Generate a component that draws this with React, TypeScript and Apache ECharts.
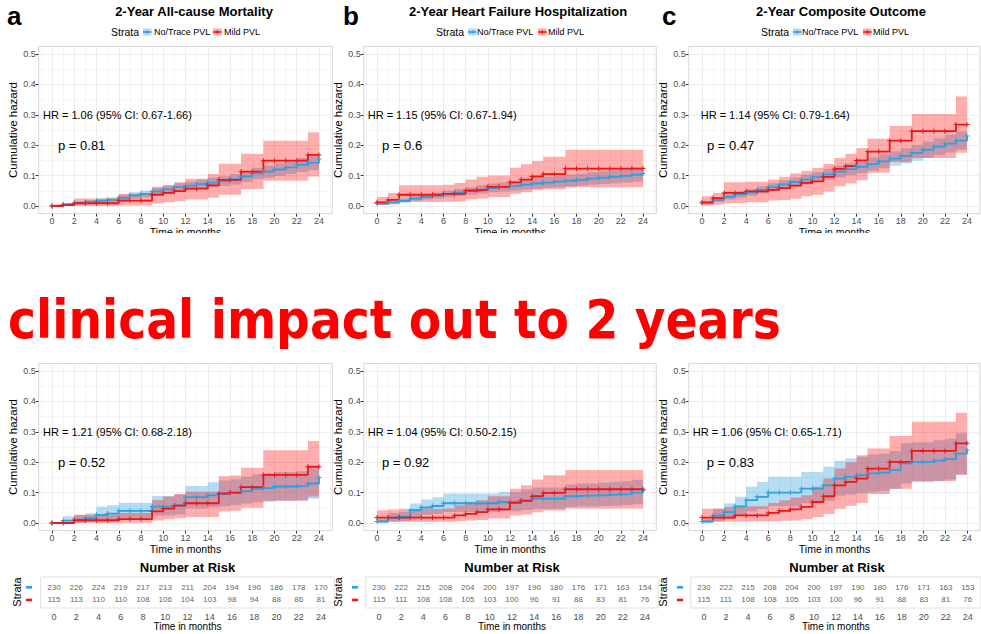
import React, { useEffect, useRef } from "react";
import * as echarts from "echarts";

// ---------------- data ----------------
const months = [0, 1, 2, 3, 4, 5, 6, 7, 8, 9, 10, 11, 12, 13, 14, 15, 16, 17, 18, 19, 20, 21, 22, 23, 24];
const xTicks = [0, 2, 4, 6, 8, 10, 12, 14, 16, 18, 20, 22, 24];
const yTicks = [0, 0.1, 0.2, 0.3, 0.4, 0.5];
const gridX = [-1, 0, 1, 2, 3, 4, 5, 6, 7, 8, 9, 10, 11, 12, 13, 14, 15, 16, 17, 18, 19, 20, 21, 22, 23, 24, 25];
const gridY = [0, 0.05, 0.1, 0.15, 0.2, 0.25, 0.3, 0.35, 0.4, 0.45, 0.5];

// Top row (a) 2-Year All-cause Mortality
const aTopBlue = [0, 0.005, 0.01, 0.013, 0.017, 0.02, 0.027, 0.035, 0.04, 0.048, 0.055, 0.062, 0.067, 0.072, 0.077, 0.082, 0.088, 0.097, 0.107, 0.113, 0.12, 0.127, 0.135, 0.142, 0.155];
const aTopBlueLo = [0, 0.001, 0.005, 0.007, 0.01, 0.012, 0.018, 0.025, 0.029, 0.036, 0.042, 0.048, 0.053, 0.057, 0.061, 0.066, 0.071, 0.079, 0.088, 0.093, 0.099, 0.105, 0.112, 0.118, 0.13];
const aTopBlueHi = [0.002, 0.009, 0.016, 0.02, 0.025, 0.029, 0.036, 0.045, 0.051, 0.06, 0.068, 0.076, 0.081, 0.087, 0.093, 0.098, 0.105, 0.115, 0.126, 0.133, 0.141, 0.149, 0.158, 0.166, 0.18];
const aTopRed = [0, 0.003, 0.009, 0.009, 0.009, 0.009, 0.018, 0.018, 0.018, 0.037, 0.043, 0.049, 0.057, 0.057, 0.068, 0.086, 0.086, 0.113, 0.113, 0.149, 0.149, 0.149, 0.149, 0.168, 0.168];
const aTopRedLo = [0, 0, 0, 0, 0, 0, 0.002, 0.002, 0.002, 0.008, 0.012, 0.016, 0.021, 0.021, 0.027, 0.037, 0.037, 0.056, 0.056, 0.083, 0.083, 0.083, 0.083, 0.097, 0.097];
const aTopRedHi = [0.005, 0.01, 0.025, 0.025, 0.025, 0.025, 0.04, 0.04, 0.04, 0.063, 0.068, 0.078, 0.09, 0.09, 0.105, 0.139, 0.139, 0.172, 0.172, 0.215, 0.215, 0.215, 0.215, 0.243, 0.243];

// Top row (b) 2-Year Heart Failure Hospitalization
const bTopBlue = [0.008, 0.012, 0.017, 0.024, 0.029, 0.034, 0.039, 0.044, 0.049, 0.054, 0.059, 0.062, 0.066, 0.07, 0.074, 0.077, 0.08, 0.083, 0.086, 0.09, 0.093, 0.096, 0.099, 0.103, 0.108];
const bTopBlueLo = [0.004, 0.007, 0.011, 0.017, 0.021, 0.025, 0.029, 0.033, 0.037, 0.041, 0.045, 0.048, 0.051, 0.054, 0.057, 0.06, 0.062, 0.064, 0.067, 0.07, 0.072, 0.075, 0.077, 0.08, 0.084];
const bTopBlueHi = [0.013, 0.018, 0.024, 0.032, 0.038, 0.044, 0.05, 0.056, 0.062, 0.068, 0.074, 0.077, 0.082, 0.087, 0.092, 0.095, 0.099, 0.103, 0.106, 0.111, 0.115, 0.118, 0.122, 0.127, 0.133];
const bTopRed = [0.012, 0.02, 0.037, 0.037, 0.037, 0.037, 0.04, 0.04, 0.051, 0.053, 0.063, 0.063, 0.078, 0.087, 0.097, 0.105, 0.105, 0.123, 0.123, 0.123, 0.123, 0.123, 0.123, 0.123, 0.123];
const bTopRedLo = [0.003, 0.006, 0.013, 0.013, 0.013, 0.013, 0.015, 0.015, 0.022, 0.025, 0.03, 0.03, 0.04, 0.045, 0.052, 0.056, 0.056, 0.062, 0.062, 0.062, 0.062, 0.062, 0.062, 0.062, 0.062];
const bTopRedHi = [0.03, 0.043, 0.068, 0.068, 0.068, 0.068, 0.07, 0.076, 0.087, 0.096, 0.1, 0.1, 0.126, 0.137, 0.148, 0.162, 0.162, 0.185, 0.185, 0.185, 0.185, 0.185, 0.185, 0.185, 0.185];

// Top row (c) 2-Year Composite Outcome
const cTopBlue = [0.01, 0.02, 0.03, 0.038, 0.045, 0.053, 0.062, 0.071, 0.079, 0.087, 0.095, 0.104, 0.113, 0.121, 0.129, 0.138, 0.147, 0.156, 0.165, 0.175, 0.185, 0.195, 0.205, 0.215, 0.23];
const cTopBlueLo = [0.005, 0.013, 0.021, 0.028, 0.034, 0.041, 0.049, 0.057, 0.064, 0.071, 0.078, 0.086, 0.094, 0.101, 0.108, 0.116, 0.124, 0.132, 0.14, 0.149, 0.158, 0.167, 0.176, 0.185, 0.198];
const cTopBlueHi = [0.016, 0.027, 0.039, 0.048, 0.056, 0.065, 0.075, 0.085, 0.094, 0.103, 0.112, 0.122, 0.132, 0.141, 0.15, 0.16, 0.17, 0.18, 0.19, 0.201, 0.212, 0.223, 0.234, 0.245, 0.262];
const cTopRed = [0.012, 0.026, 0.043, 0.043, 0.048, 0.048, 0.053, 0.059, 0.067, 0.076, 0.081, 0.096, 0.122, 0.131, 0.15, 0.179, 0.179, 0.215, 0.215, 0.246, 0.246, 0.246, 0.246, 0.268, 0.268];
const cTopRedLo = [0.002, 0.004, 0.01, 0.01, 0.012, 0.012, 0.018, 0.02, 0.024, 0.032, 0.037, 0.048, 0.065, 0.074, 0.085, 0.109, 0.109, 0.145, 0.145, 0.158, 0.158, 0.158, 0.158, 0.175, 0.175];
const cTopRedHi = [0.032, 0.043, 0.078, 0.078, 0.08, 0.08, 0.087, 0.096, 0.107, 0.116, 0.125, 0.138, 0.158, 0.172, 0.191, 0.221, 0.221, 0.263, 0.263, 0.303, 0.303, 0.303, 0.303, 0.36, 0.36];

// Bottom row (a)
const aBotBlue = [0, 0.008, 0.011, 0.016, 0.027, 0.031, 0.04, 0.04, 0.04, 0.054, 0.054, 0.058, 0.085, 0.085, 0.091, 0.095, 0.098, 0.105, 0.112, 0.115, 0.12, 0.12, 0.122, 0.13, 0.15];
const aBotBlueLo = [0, 0, 0.001, 0.003, 0.008, 0.01, 0.015, 0.015, 0.015, 0.025, 0.025, 0.028, 0.048, 0.048, 0.052, 0.055, 0.058, 0.064, 0.068, 0.07, 0.073, 0.073, 0.075, 0.08, 0.092];
const aBotBlueHi = [0, 0.022, 0.026, 0.032, 0.054, 0.058, 0.067, 0.067, 0.067, 0.089, 0.089, 0.094, 0.122, 0.122, 0.134, 0.14, 0.144, 0.152, 0.16, 0.163, 0.168, 0.168, 0.17, 0.18, 0.205];
const aBotRed = [0, 0, 0.009, 0.009, 0.009, 0.009, 0.013, 0.013, 0.013, 0.038, 0.047, 0.057, 0.065, 0.065, 0.065, 0.097, 0.1, 0.118, 0.118, 0.158, 0.158, 0.158, 0.158, 0.185, 0.185];
const aBotRedLo = [0, 0, 0, 0, 0, 0, 0.001, 0.001, 0.001, 0.008, 0.012, 0.016, 0.02, 0.02, 0.02, 0.038, 0.04, 0.05, 0.05, 0.073, 0.073, 0.073, 0.073, 0.087, 0.087];
const aBotRedHi = [0, 0, 0.027, 0.027, 0.027, 0.027, 0.033, 0.033, 0.033, 0.076, 0.087, 0.095, 0.103, 0.103, 0.103, 0.154, 0.156, 0.182, 0.182, 0.239, 0.239, 0.239, 0.239, 0.27, 0.27];

// Bottom row (b)
const bBotBlue = [0.005, 0.017, 0.021, 0.042, 0.051, 0.056, 0.065, 0.065, 0.065, 0.065, 0.065, 0.069, 0.069, 0.075, 0.08, 0.08, 0.08, 0.088, 0.09, 0.09, 0.092, 0.094, 0.095, 0.1, 0.107];
const bBotBlueLo = [0, 0.004, 0.006, 0.02, 0.027, 0.03, 0.036, 0.036, 0.036, 0.036, 0.036, 0.039, 0.039, 0.043, 0.047, 0.047, 0.047, 0.053, 0.054, 0.054, 0.056, 0.057, 0.058, 0.062, 0.066];
const bBotBlueHi = [0.012, 0.033, 0.037, 0.064, 0.077, 0.085, 0.097, 0.097, 0.097, 0.097, 0.097, 0.102, 0.102, 0.11, 0.117, 0.117, 0.117, 0.127, 0.13, 0.13, 0.133, 0.135, 0.137, 0.142, 0.15];
const bBotRed = [0.018, 0.018, 0.018, 0.018, 0.018, 0.018, 0.018, 0.025, 0.03, 0.036, 0.045, 0.045, 0.066, 0.073, 0.088, 0.099, 0.099, 0.111, 0.111, 0.111, 0.111, 0.111, 0.111, 0.111, 0.111];
const bBotRedLo = [0.004, 0.004, 0.004, 0.004, 0.004, 0.004, 0.004, 0.006, 0.008, 0.01, 0.015, 0.015, 0.025, 0.028, 0.035, 0.041, 0.041, 0.048, 0.048, 0.048, 0.048, 0.048, 0.048, 0.048, 0.048];
const bBotRedHi = [0.042, 0.044, 0.046, 0.046, 0.046, 0.046, 0.048, 0.058, 0.068, 0.075, 0.088, 0.088, 0.113, 0.124, 0.143, 0.157, 0.157, 0.174, 0.174, 0.174, 0.174, 0.174, 0.174, 0.174, 0.174];

// Bottom row (c)
const cBotBlue = [0.005, 0.025, 0.036, 0.055, 0.075, 0.086, 0.1, 0.1, 0.1, 0.113, 0.113, 0.124, 0.146, 0.152, 0.157, 0.163, 0.166, 0.174, 0.196, 0.2, 0.2, 0.205, 0.21, 0.228, 0.24];
const cBotBlueLo = [0, 0.006, 0.013, 0.025, 0.038, 0.046, 0.055, 0.055, 0.055, 0.065, 0.065, 0.073, 0.09, 0.094, 0.098, 0.103, 0.106, 0.112, 0.13, 0.134, 0.134, 0.138, 0.143, 0.16, 0.17];
const cBotBlueHi = [0.012, 0.047, 0.064, 0.086, 0.119, 0.135, 0.152, 0.152, 0.152, 0.168, 0.168, 0.185, 0.205, 0.212, 0.218, 0.225, 0.228, 0.237, 0.262, 0.266, 0.266, 0.272, 0.277, 0.295, 0.308];
const cBotRed = [0.018, 0.018, 0.018, 0.025, 0.025, 0.025, 0.033, 0.04, 0.045, 0.053, 0.069, 0.088, 0.124, 0.135, 0.146, 0.179, 0.179, 0.201, 0.201, 0.237, 0.237, 0.237, 0.237, 0.262, 0.262];
const cBotRedLo = [0.004, 0.004, 0.004, 0.005, 0.005, 0.005, 0.006, 0.007, 0.008, 0.012, 0.02, 0.03, 0.047, 0.057, 0.066, 0.095, 0.095, 0.113, 0.113, 0.138, 0.138, 0.138, 0.138, 0.158, 0.158];
const cBotRedHi = [0.047, 0.047, 0.053, 0.055, 0.055, 0.055, 0.066, 0.075, 0.083, 0.091, 0.119, 0.146, 0.179, 0.2, 0.223, 0.245, 0.245, 0.286, 0.286, 0.333, 0.333, 0.333, 0.333, 0.363, 0.363];

// Number at risk
const riskTimes = [0, 2, 4, 6, 8, 10, 12, 14, 16, 18, 20, 22, 24];
const riskABlue = [230, 226, 224, 219, 217, 213, 211, 204, 194, 190, 186, 178, 170];
const riskARed = [115, 113, 110, 110, 108, 106, 104, 103, 98, 94, 88, 86, 81];
const riskBBlue = [230, 222, 215, 208, 204, 200, 197, 190, 180, 176, 171, 163, 154];
const riskBRed = [115, 111, 108, 108, 105, 103, 100, 96, 91, 88, 83, 81, 76];
const riskCBlue = [230, 222, 215, 208, 204, 200, 197, 190, 180, 176, 171, 163, 153];
const riskCRed = [115, 111, 108, 108, 105, 103, 100, 96, 91, 88, 83, 81, 76];

const panelTitles = ["2-Year All-cause Mortality", "2-Year Heart Failure Hospitalization", "2-Year Composite Outcome"];
const panelLetters = ["a", "b", "c"];
const legendNames = ["No/Trace PVL", "Mild PVL"];

// ---------------- styling / layout ----------------
const FONT = "'Liberation Sans', Arial, Helvetica, sans-serif";
const BLUE = "#2E9FDF";
const RED = "#F01414";
const BLUE_FILL = "rgba(46,159,223,0.36)";
const RED_FILL = "rgba(255,0,0,0.32)";
const PLUS = "path://M2,0L3,0L3,2L5,2L5,3L3,3L3,5L2,5L2,3L0,3L0,2L2,2Z";

const COLS = [
  { left: 38.65, width: 293.7 },
  { left: 363.7, width: 292.6 },
  { left: 688.75, width: 291.5 },
];
const ROW_TOP = [46.4, 363.4];
const PANEL_H = 167.2;

const panels = [
  { row: 0, col: 0, blue: aTopBlue, blueLo: aTopBlueLo, blueHi: aTopBlueHi, red: aTopRed, redLo: aTopRedLo, redHi: aTopRedHi, hr: "HR = 1.06 (95% CI: 0.67-1.66)", p: "p = 0.81", hrX: 43, pX: 58, hrY: 115.2, pY: 145.5 },
  { row: 0, col: 1, blue: bTopBlue, blueLo: bTopBlueLo, blueHi: bTopBlueHi, red: bTopRed, redLo: bTopRedLo, redHi: bTopRedHi, hr: "HR = 1.15 (95% CI: 0.67-1.94)", p: "p = 0.6", hrX: 367.7, pX: 382, hrY: 115.2, pY: 145.5 },
  { row: 0, col: 2, blue: cTopBlue, blueLo: cTopBlueLo, blueHi: cTopBlueHi, red: cTopRed, redLo: cTopRedLo, redHi: cTopRedHi, hr: "HR = 1.14 (95% CI: 0.79-1.64)", p: "p = 0.47", hrX: 700.7, pX: 707, hrY: 115.2, pY: 145.5 },
  { row: 1, col: 0, blue: aBotBlue, blueLo: aBotBlueLo, blueHi: aBotBlueHi, red: aBotRed, redLo: aBotRedLo, redHi: aBotRedHi, hr: "HR = 1.21 (95% CI: 0.68-2.18)", p: "p = 0.52", hrX: 43, pX: 58, hrY: 432.2, pY: 462.8 },
  { row: 1, col: 1, blue: bBotBlue, blueLo: bBotBlueLo, blueHi: bBotBlueHi, red: bBotRed, redLo: bBotRedLo, redHi: bBotRedHi, hr: "HR = 1.04 (95% CI: 0.50-2.15)", p: "p = 0.92", hrX: 367.7, pX: 382, hrY: 432.2, pY: 462.8 },
  { row: 1, col: 2, blue: cBotBlue, blueLo: cBotBlueLo, blueHi: cBotBlueHi, red: cBotRed, redLo: cBotRedLo, redHi: cBotRedHi, hr: "HR = 1.06 (95% CI: 0.65-1.71)", p: "p = 0.83", hrX: 692.7, pX: 706.7, hrY: 432.2, pY: 462.8 },
];

const risks = [
  { blue: riskABlue, red: riskARed, left: 40.65, width: 293.7, titleX: 187.5, strataX: 17, dashX: 26 },
  { blue: riskBBlue, red: riskBRed, left: 365.7, width: 292.6, titleX: 512, strataX: 338, dashX: 352 },
  { blue: riskCBlue, red: riskCRed, left: 690.75, width: 291.5, titleX: 837, strataX: 663, dashX: 677 },
];

const legendPos = [
  { s: 111, k1: 143, t1: 154, k2: 213, t2: 224, titleX: 194, letterX: 7 },
  { s: 436, k1: 468, t1: 477, k2: 538, t2: 548, titleX: 518, letterX: 343 },
  { s: 761, k1: 793, t1: 802, k2: 863, t2: 873, titleX: 841, letterX: 662 },
];

function txt(x: number, y: number, text: string, fontSize: number, extra: any = {}, el: any = {}) {
  return {
    type: "text",
    x,
    y,
    z: 50,
    silent: true,
    ...el,
    style: { text, fontSize, fontFamily: FONT, fill: "#000", align: "left", verticalAlign: "middle", ...extra },
  };
}

function buildOption() {
  const grid: any[] = [];
  const xAxis: any[] = [];
  const yAxis: any[] = [];
  const series: any[] = [];
  const graphic: any[] = [];

  const tickStyle = { show: true, length: 3, lineStyle: { color: "#333", width: 1 } };

  panels.forEach((p, gi) => {
    const col = COLS[p.col];
    grid.push({
      left: col.left,
      top: ROW_TOP[p.row],
      width: col.width,
      height: PANEL_H,
      show: true,
      backgroundColor: "#fff",
      borderColor: "#D6D6D6",
      borderWidth: 1,
    });
    xAxis.push({
      gridIndex: gi,
      type: "value",
      min: -1.2,
      max: 25.2,
      axisLine: { show: false, onZero: false },
      splitLine: { show: false },
      axisTick: { ...tickStyle, customValues: xTicks },
      axisLabel: { customValues: xTicks, fontSize: 9, color: "#4D4D4D", margin: 3, fontFamily: FONT },
      name: "Time in months",
      nameLocation: "middle",
      nameGap: 12,
      nameTextStyle: { fontSize: 10.5, color: "#000", fontFamily: FONT },
    });
    yAxis.push({
      gridIndex: gi,
      type: "value",
      min: -0.025,
      max: 0.525,
      axisLine: { show: false, onZero: false },
      splitLine: { show: false },
      axisTick: { ...tickStyle, customValues: yTicks },
      axisLabel: {
        customValues: yTicks,
        formatter: (v: number) => v.toFixed(1),
        fontSize: 9,
        color: "#4D4D4D",
        margin: 3,
        fontFamily: FONT,
      },
      name: "Cumulative hazard",
      nameLocation: "middle",
      nameGap: 16,
      nameTextStyle: { fontSize: 11.5, color: "#000", fontFamily: FONT },
    });

    // grid lines (major + minor) through the axes' scales, kept beneath the bands
    series.push({
      type: "line",
      xAxisIndex: gi,
      yAxisIndex: gi,
      data: [[0, 0]],
      symbol: "none",
      lineStyle: { opacity: 0 },
      silent: true,
      z: 1,
      markLine: {
        z: 1,
        silent: true,
        symbol: ["none", "none"],
        label: { show: false },
        animation: false,
        data: [
          ...gridX.map((v) => ({ xAxis: v, lineStyle: { color: "#EBEBEB", width: v % 2 === 0 ? 0.9 : 0.5, type: "solid" } })),
          ...gridY.map((v) => ({
            yAxis: v,
            lineStyle: { color: "#EBEBEB", width: Math.round(v * 100) % 10 === 0 ? 0.9 : 0.5, type: "solid" },
          })),
        ],
      },
    });

    // confidence bands as stepped polygons built through the axis scales
    const band = (lo: number[], hi: number[], fill: string) => {
      const n = months.length;
      series.push({
        type: "custom",
        coordinateSystem: "cartesian2d",
        xAxisIndex: gi,
        yAxisIndex: gi,
        silent: true,
        z: 2,
        data: [[0, 0]],
        renderItem: (_params: any, api: any) => {
          const pts: number[][] = [];
          for (let k = 0; k < n; k++) {
            const x1 = months[Math.min(k + 1, n - 1)];
            pts.push(api.coord([months[k], hi[k]]));
            pts.push(api.coord([x1, hi[k]]));
          }
          for (let k = n - 1; k >= 0; k--) {
            const x1 = months[Math.min(k + 1, n - 1)];
            pts.push(api.coord([x1, lo[k]]));
            pts.push(api.coord([months[k], lo[k]]));
          }
          return { type: "polygon", shape: { points: pts }, style: { fill, stroke: "none" } };
        },
      });
    };
    band(p.blueLo, p.blueHi, BLUE_FILL);
    band(p.redLo, p.redHi, RED_FILL);

    const curve = (vals: number[], color: string, name: string) => {
      series.push({
        type: "line",
        name,
        xAxisIndex: gi,
        yAxisIndex: gi,
        step: "end",
        data: months.map((m, k) => [m, vals[k]]),
        lineStyle: { color, width: 1.8 },
        itemStyle: { color },
        symbol: PLUS,
        symbolSize: 5,
        showSymbol: true,
        silent: true,
        z: 4,
      });
    };
    curve(p.blue, BLUE, legendNames[0]);
    curve(p.red, RED, legendNames[1]);

    graphic.push(txt(p.hrX, p.hrY, p.hr, 11));
    graphic.push(txt(p.pX, p.pY, p.p, 13));
  });

  // risk tables
  risks.forEach((r, i) => {
    const gi = panels.length + i;
    grid.push({
      left: r.left,
      top: 577,
      width: r.width,
      height: 31,
      show: true,
      backgroundColor: "#fff",
      borderColor: "#E0E0E0",
      borderWidth: 1,
    });
    xAxis.push({
      gridIndex: gi,
      type: "value",
      min: -1.2,
      max: 25.2,
      axisLine: { show: false, onZero: false },
      splitLine: { show: false },
      axisTick: { show: false, customValues: xTicks },
      axisLabel: { customValues: xTicks, fontSize: 9, color: "#4D4D4D", margin: 4, fontFamily: FONT },
      name: "Time in months",
      nameLocation: "middle",
      nameGap: 12,
      nameTextStyle: { fontSize: 10, color: "#000", fontFamily: FONT },
    });
    yAxis.push({
      gridIndex: gi,
      type: "value",
      min: -0.63,
      max: 1.81,
      show: false,
      axisLine: { show: false, onZero: false },
      splitLine: { show: false },
    });
    const row = (vals: number[], y: number) => ({
      type: "scatter",
      xAxisIndex: gi,
      yAxisIndex: gi,
      data: riskTimes.map((t, k) => [t, y, vals[k]]),
      symbolSize: 1,
      itemStyle: { color: "transparent" },
      silent: true,
      z: 5,
      label: {
        show: true,
        position: "inside",
        formatter: (q: any) => String(q.value[2]),
        fontSize: 8,
        color: "#333",
        fontFamily: FONT,
      },
    });
    series.push(row(r.blue, 1));
    series.push(row(r.red, 0));

    graphic.push(txt(r.titleX, 567.8, "Number at Risk", 13, { fontWeight: "bold", align: "center" }));
    graphic.push(txt(r.strataX, 592, "Strata", 11, { align: "center" }, { rotation: Math.PI / 2 }));
    graphic.push({ type: "rect", z: 50, silent: true, shape: { x: r.dashX, y: 586, width: 6, height: 2.6 }, style: { fill: BLUE } });
    graphic.push({ type: "rect", z: 50, silent: true, shape: { x: r.dashX, y: 598.7, width: 6, height: 2.6 }, style: { fill: RED } });
  });

  // panel titles, letters, legends
  legendPos.forEach((l, i) => {
    graphic.push(txt(l.letterX, 15.5, panelLetters[i], 26, { fontWeight: "bold" }));
    graphic.push(txt(l.titleX, 11.5, panelTitles[i], 13, { fontWeight: "bold", align: "center" }));
    graphic.push(txt(l.s, 32, "Strata", 10.5));
    const key = (kx: number, fill: string, color: string) => {
      graphic.push({ type: "rect", z: 50, silent: true, shape: { x: kx, y: 28.5, width: 8.5, height: 7 }, style: { fill } });
      graphic.push({ type: "line", z: 51, silent: true, shape: { x1: kx, y1: 32, x2: kx + 8.5, y2: 32 }, style: { stroke: color, lineWidth: 1.6 } });
      graphic.push({ type: "line", z: 51, silent: true, shape: { x1: kx + 4.25, y1: 30.2, x2: kx + 4.25, y2: 33.8 }, style: { stroke: color, lineWidth: 1 } });
    };
    key(l.k1, BLUE_FILL, BLUE);
    graphic.push(txt(l.t1, 32, legendNames[0], 9));
    key(l.k2, RED_FILL, RED);
    graphic.push(txt(l.t2, 32, legendNames[1], 9));
  });

  // clip the top row's x-axis titles like in the reference
  graphic.push({ type: "rect", z: 100, silent: true, shape: { x: 0, y: 233, width: 981, height: 56 }, style: { fill: "#fff" } });

  // big red caption
  graphic.push({
    type: "text",
    x: 8,
    y: 319.6,
    scaleX: 0.875,
    z: 110,
    silent: true,
    style: {
      text: "clinical impact out to 2 years",
      fontFamily: "'DejaVu Sans', Verdana, sans-serif",
      fontWeight: "bold",
      fontSize: 54,
      fill: "#FF0000",
      align: "left",
      verticalAlign: "middle",
    },
  });

  return {
    animation: false,
    backgroundColor: "#fff",
    grid,
    xAxis,
    yAxis,
    series,
    graphic,
  };
}

export default function App() {
  const ref = useRef<HTMLDivElement>(null);
  useEffect(() => {
    if (!ref.current) return;
    const chart = echarts.init(ref.current, null, { renderer: "svg" });
    chart.setOption(buildOption() as any);
    return () => {
      chart.dispose();
    };
  }, []);
  return (
    <div
      ref={ref}
      style={{ position: "fixed", left: 0, top: 0, width: 981, height: 634, background: "#fff" }}
    />
  );
}
